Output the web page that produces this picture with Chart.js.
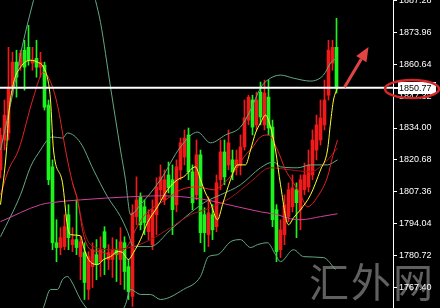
<!DOCTYPE html>
<html>
<head>
<meta charset="utf-8">
<script src="https://cdn.jsdelivr.net/npm/chart.js@4.4.1/dist/chart.umd.min.js"></script>
<style>
  html, body { margin: 0; padding: 0; background: #000; }
  #chartContainer { width: 440px; height: 308px; }
</style>
</head>
<body>
<div id="chartContainer"><canvas id="main-chart" width="440" height="308"></canvas></div>
<script>
// candles, left to right (red = up, green = down)
const opens  = [1816.5,1829.0,1831.9,1850.7,1861.5,1860.2,1866.5,1867.7,1861.1,1863.1,1859.4,1860.2,1843.6,1817.8,1786.1,1784.1,1784.5,1797.8,1785.3,1787.4,
                1780.3,1782.0,1766.6,1776.1,1781.1,1778.2,1790.7,1779.1,1779.1,1783.2,1779.1,1786.1,1776.1,1763.7,1797.0,1805.3,1801.1,1790.7,1785.3,1797.8,
                1808.2,1804.0,1814.4,1812.4,1802.0,1816.5,1821.9,1831.1,1815.7,1806.1,1822.8,1797.8,1789.5,1797.8,1792.8,1812.4,1824.0,1818.6,1820.7,1817.4,
                1818.6,1826.1,1837.3,1845.7,1835.3,1849.0,1835.3,1846.9,1834.4,1799.9,1783.2,1789.5,1797.0,1801.1,1808.2,1799.9,1808.2,1809.4,1814.4,1824.8,
                1829.0,1835.3,1847.7,1861.1,1867.7]
const highs  = [1834.0,1845.7,1867.7,1865.6,1866.5,1866.5,1870.6,1876.9,1867.7,1870.6,1865.6,1861.5,1845.7,1820.7,1795.7,1792.4,1797.8,1802.0,1792.4,1804.0,
                1788.6,1786.1,1782.4,1786.1,1787.4,1788.6,1792.8,1785.3,1788.2,1787.4,1792.4,1788.6,1779.1,1802.0,1813.6,1806.9,1804.0,1799.9,1804.0,1813.2,
                1818.6,1816.5,1819.8,1818.6,1820.7,1829.8,1833.2,1834.0,1818.6,1829.0,1824.8,1800.7,1805.3,1802.0,1814.4,1829.0,1829.0,1833.2,1824.8,1824.8,
                1831.1,1845.7,1847.7,1847.7,1849.0,1853.2,1854.0,1854.0,1837.3,1802.0,1795.7,1806.1,1811.1,1814.4,1811.1,1814.4,1819.4,1824.8,1833.2,1839.4,
                1845.7,1854.0,1870.6,1870.6,1879.8]
const lows   = [1813.2,1824.8,1829.0,1847.7,1846.9,1858.1,1849.8,1860.2,1858.1,1855.2,1855.2,1841.5,1810.3,1783.2,1778.2,1781.1,1783.2,1783.2,1782.4,1781.1,
                1770.7,1762.4,1762.4,1767.4,1770.7,1772.0,1772.8,1774.9,1771.6,1769.9,1768.6,1766.6,1762.4,1759.5,1793.6,1791.5,1789.5,1787.4,1783.2,1789.5,
                1804.0,1802.0,1806.9,1789.5,1799.0,1812.4,1818.6,1812.4,1799.9,1804.0,1786.1,1782.4,1784.5,1787.4,1790.7,1808.2,1810.3,1816.5,1812.4,1814.4,
                1814.4,1824.8,1835.3,1831.1,1833.2,1835.3,1833.2,1831.1,1792.8,1778.2,1779.9,1785.3,1794.9,1799.0,1788.2,1791.5,1806.1,1807.3,1812.4,1820.7,
                1826.9,1833.2,1845.7,1858.1,1848.6]
const closes = [1831.1,1839.4,1851.1,1861.5,1855.2,1865.2,1859.4,1862.3,1862.3,1859.4,1861.5,1842.7,1812.4,1786.1,1784.1,1788.2,1792.8,1788.2,1787.4,1784.1,
                1786.5,1769.5,1780.3,1783.2,1777.0,1783.2,1784.1,1782.0,1783.2,1781.1,1786.5,1774.1,1765.7,1798.6,1804.0,1793.6,1794.5,1797.8,1799.9,1809.4,
                1813.6,1812.4,1809.0,1799.9,1817.8,1827.8,1829.8,1815.7,1802.8,1822.8,1790.3,1790.3,1798.6,1791.5,1811.1,1824.0,1813.6,1827.8,1815.7,1820.7,
                1826.1,1838.2,1846.9,1834.4,1845.7,1838.6,1848.6,1834.0,1795.7,1782.4,1791.5,1802.0,1808.2,1809.0,1802.8,1812.4,1814.4,1818.6,1829.0,1835.3,
                1838.2,1845.7,1866.5,1867.7,1850.77]

// indicator lines as [bar, price]
const maFast = [[0,1802.0],[1.5,1824.8],[2,1838.6],[3.25,1852.7],[5,1859.4],[7.5,1862.3],[9.25,1861.5],[10.75,1859.4],[12,1852.7],[12.5,1845.7],
  [13.25,1824.8],[15.5,1811.1],[16.75,1792.8],[17.5,1789.5],[20,1789.0],[20.75,1784.5],[22,1779.1],[24.25,1777.0],[25.75,1779.1],[27.5,1780.3],
  [29.25,1782.4],[30.5,1782.0],[32,1779.1],[33.25,1782.0],[35,1787.4],[36.75,1794.5],[39.25,1801.1],[41.75,1808.2],[44.25,1812.4],[45.75,1813.6],
  [48.75,1817.8],[50,1812.4],[51.25,1806.9],[52.5,1802.8],[54.25,1795.7],[55.5,1802.0],[57.5,1812.4],[59.25,1818.6],[61.25,1818.6],[62.5,1824.8],
  [63.75,1831.9],[65,1836.1],[66.25,1839.4],[67.5,1834.4],[68.75,1824.8],[70,1810.3],[72,1793.6],[73.25,1796.5],[75,1799.9],[77.5,1806.1],
  [80,1816.5],[81.75,1824.8],[82.5,1836.1],[83.25,1845.7],[84.25,1850.7]]
const maMid = [[0,1806.1],[2,1816.5],[4.5,1824.8],[8.25,1846.9],[10.75,1857.3],[13,1851.1],[14.5,1841.5],[16.25,1824.8],[18,1811.1],[19.25,1804.0],
  [20.75,1789.5],[22.5,1783.2],[25,1782.4],[27.5,1781.1],[30,1782.0],[32,1785.3],[33.75,1791.5],[35.75,1797.0],[37.5,1799.9],[41.25,1804.0],
  [45,1808.2],[49.25,1809.4],[53.25,1808.2],[56.75,1812.4],[59.25,1817.8],[61.25,1822.8],[62.5,1824.8],[65,1830.3],[67,1831.1],[69.25,1824.8],
  [71.25,1816.5],[73.25,1811.1],[75,1806.1],[76.75,1801.1],[79.25,1805.3],[81.75,1813.6],[83,1821.9],[84.25,1829.0]]
const maSlow = [[18,1811.1],[19.25,1804.0],[20.75,1792.0],[22.5,1785.3],[27.5,1783.2],[33.25,1784.5],[37.5,1787.4],[42.5,1792.4],[47.5,1797.8],
  [52.5,1800.7],[57.5,1804.9],[62.5,1811.5],[67.5,1817.4],[72.5,1816.5],[77.5,1815.7],[81.25,1819.8],[84.25,1825.7]]
const maLong = [[0,1794.9],[10,1802.0],[12.5,1802.8],[20,1804.0],[32.5,1805.3],[40,1805.7],[50,1804.4],[58.25,1801.5],[65,1799.0],[69.25,1797.8],
  [72.5,1796.1],[75,1795.7],[80,1797.0],[84.25,1798.2]]
const bandUpper = [[0,1824.8],[3.25,1849.8],[5.5,1868.6],[8.25,1887.3],[11.25,1906.0],[16.25,1916.4],[21.25,1904.0],[23.75,1887.3],[25,1878.1],
  [27.5,1851.1],[30,1824.8],[31.25,1812.4],[32.5,1797.8],[35,1802.0],[40,1812.4],[45,1826.1],[49.25,1832.3],[52.5,1827.8],[56.25,1831.1],
  [60,1834.4],[62.5,1841.5],[65,1850.7],[66.75,1854.0],[70,1856.1],[73.25,1854.8],[77.5,1853.6],[80.75,1856.1],[82.5,1861.1],[84.25,1863.6]]
const bandMid = [[0,1788.6],[5,1806.1],[7.5,1817.8],[10,1824.8],[11.75,1829.0],[13,1830.3],[15.5,1829.8],[16.75,1831.9],[20,1827.8],[23.25,1816.5],
  [26.75,1805.3],[30,1797.0],[31.75,1790.7],[33.25,1784.5],[37.5,1784.5],[42.5,1791.5],[47.5,1798.6],[51.25,1803.2],[55,1806.1],[60,1810.3],
  [65,1817.4],[68.25,1819.8],[70,1817.8],[74.25,1817.4],[77.5,1818.6],[81.75,1818.6],[84.25,1820.7]]
const bandLower = [[0,1735.0],[5,1743.7],[8.75,1752.0],[10.75,1759.1],[12.5,1766.6],[14.25,1766.6],[15.5,1770.7],[16.75,1772.0],[17.5,1770.7],
  [20,1762.4],[21.75,1758.2],[25,1749.9],[28.75,1753.3],[31.25,1760.3],[32.5,1766.6],[35,1764.5],[37.5,1764.5],[40,1762.4],[45.75,1766.6],
  [50,1772.0],[52,1780.3],[54.25,1781.1],[57.5,1786.5],[60,1787.4],[62.5,1784.1],[64.25,1785.3],[66.75,1786.1],[68.75,1781.1],[70,1778.2],
  [73.25,1783.2],[75.75,1780.3],[80.75,1779.9],[83.75,1774.9]]

const yTicks = [1887.28, 1873.96, 1860.64, 1847.32, 1834.00, 1820.68, 1807.36, 1794.04, 1780.72, 1767.40]
const lastPrice = 1850.77
const arrowFrom = [86, 1851.0]
const arrowTo = [92, 1867.8]

const upColor = '#f01a1a'
const downColor = '#1cf51c'
const candleColors = opens.map((o, i) => closes[i] >= o ? upColor : downColor)

function toPoints(arr) {
  return arr.map(p => ({ x: p[0], y: p[1] }))
}

function lineSet(pts, color, order) {
  return {
    type: 'line',
    data: toPoints(pts),
    borderColor: color,
    borderWidth: 1,
    pointRadius: 0,
    cubicInterpolationMode: 'monotone',
    order: order
  }
}

// background, watermark, price box, arrow
const overlay = {
  id: 'overlay',
  beforeDraw(chart) {
    let ctx = chart.ctx
    ctx.save()
    ctx.fillStyle = '#000'
    ctx.fillRect(0, 0, chart.width, chart.height)
    ctx.fillStyle = 'rgba(120,120,120,0.8)'
    ctx.font = '40px "Noto Sans CJK SC"'
    ctx.textBaseline = 'alphabetic'
    let chars = ['汇', '外', '网']
    chars.forEach((c, k) => ctx.fillText(c, chart.width - 131 + k * 42, chart.height - 11))
    ctx.restore()
  },
  afterDraw(chart) {
    let ctx = chart.ctx
    let xs = chart.scales.x
    let ys = chart.scales.y
    let area = chart.chartArea
    let py = Math.round(ys.getPixelForValue(lastPrice))
    ctx.save()
    // current price tick + label box
    ctx.fillStyle = '#fff'
    ctx.fillRect(area.right, py - 1, 5, 2)
    ctx.fillRect(area.right + 5, py - 6, 38, 12)
    ctx.fillStyle = '#000'
    ctx.font = '9px "Liberation Sans"'
    ctx.textBaseline = 'middle'
    ctx.fillText(lastPrice.toFixed(2), area.right + 6, py + 0.5)
    // red ellipse
    ctx.strokeStyle = '#d42828'
    ctx.lineWidth = 2.5
    ctx.beginPath()
    ctx.ellipse(area.right + 19, py + 1, 27, 9, 0, 0, Math.PI * 2)
    ctx.stroke()
    // arrow
    let x1 = xs.getPixelForValue(arrowFrom[0]), y1 = ys.getPixelForValue(arrowFrom[1])
    let x2 = xs.getPixelForValue(arrowTo[0]), y2 = ys.getPixelForValue(arrowTo[1])
    let ang = Math.atan2(y2 - y1, x2 - x1)
    let head = 14, half = 6
    let bx = x2 - head * Math.cos(ang), by = y2 - head * Math.sin(ang)
    ctx.strokeStyle = '#e24444'
    ctx.fillStyle = '#e24444'
    ctx.lineWidth = 3
    ctx.beginPath()
    ctx.moveTo(x1, y1)
    ctx.lineTo(bx, by)
    ctx.stroke()
    ctx.beginPath()
    ctx.moveTo(x2, y2)
    ctx.lineTo(bx + half * Math.sin(ang), by - half * Math.cos(ang))
    ctx.lineTo(bx - half * Math.sin(ang), by + half * Math.cos(ang))
    ctx.closePath()
    ctx.fill()
    ctx.restore()
  }
}

let source = document.getElementById('main-chart')

new Chart(source, {
  type: 'bar',
  data: {
    datasets: [
      {
        type: 'line',
        data: [{ x: -1, y: lastPrice }, { x: 100, y: lastPrice }],
        borderColor: '#fff',
        borderWidth: 2,
        pointRadius: 0,
        order: 0
      },
      lineSet(maFast, '#ffff2e', 1),
      lineSet(maMid, '#e62222', 2),
      lineSet(maSlow, '#a81414', 3),
      lineSet(maLong, '#d2409e', 4),
      lineSet(bandUpper, '#62a882', 5),
      lineSet(bandMid, '#62a882', 5),
      lineSet(bandLower, '#62a882', 5),
      {
        data: opens.map((o, i) => ({ x: i, y: [o, closes[i]] })),
        backgroundColor: candleColors,
        borderWidth: 0,
        barThickness: 3,
        grouped: false,
        order: 10
      },
      {
        data: opens.map((o, i) => ({ x: i, y: [lows[i], highs[i]] })),
        backgroundColor: candleColors,
        borderWidth: 0,
        barThickness: 1,
        grouped: false,
        order: 11
      }
    ]
  },
  options: {
    responsive: false,
    devicePixelRatio: 1,
    animation: false,
    events: [],
    layout: { padding: 0 },
    plugins: {
      legend: { display: false },
      tooltip: { enabled: false }
    },
    scales: {
      x: {
        type: 'linear',
        display: false,
        offset: false,
        min: -0.125,
        max: 98.125
      },
      y: {
        position: 'right',
        min: 1758.85,
        max: 1887.45,
        afterBuildTicks: s => { s.ticks = yTicks.map(v => ({ value: v })) },
        afterFit: s => { s.width = 47; s.paddingTop = 0; s.paddingBottom = 0 },
        grid: { drawOnChartArea: false, color: '#fff', tickLength: 4, lineWidth: 1 },
        border: { display: true, color: '#fff', width: 1 },
        ticks: {
          color: '#fff',
          autoSkip: false,
          padding: 2,
          font: { family: 'Liberation Sans', size: 9 },
          callback: v => v.toFixed(2)
        }
      }
    }
  },
  plugins: [overlay]
})
</script>
</body>
</html>
